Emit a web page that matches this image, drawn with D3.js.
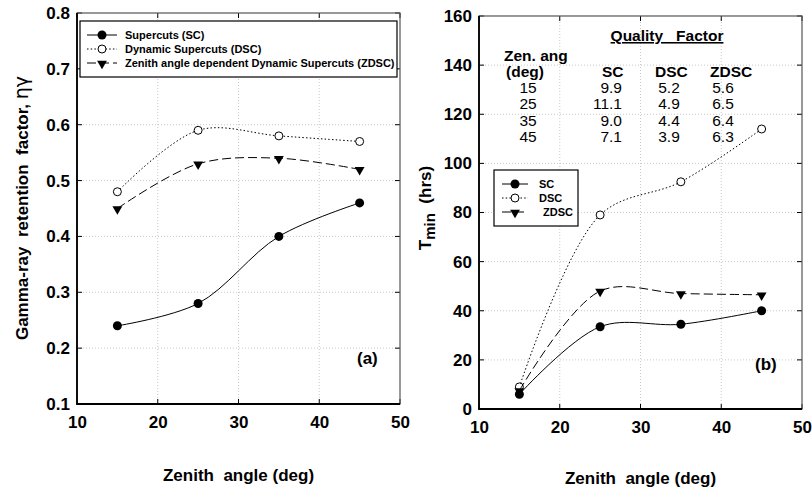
<!DOCTYPE html>
<html>
<head>
<meta charset="utf-8">
<script src="https://cdn.jsdelivr.net/npm/d3@7/dist/d3.min.js"></script>
<style>
body { margin: 0; background: #fff; }
svg { display: block; font-family: "Liberation Sans", Arial, sans-serif; }
</style>
</head>
<body>
<script>
var zenith = [15, 25, 35, 45];

// panel (a): gamma-ray retention factor
var retSC = [0.24, 0.28, 0.40, 0.46];
var retDSC = [0.48, 0.59, 0.58, 0.57];
var retZDSC = [0.45, 0.53, 0.54, 0.52];

// panel (b): T_min (hrs)
var tSC = [6, 33.5, 34.5, 40];
var tDSC = [9, 79, 92.5, 114];
var tZDSC = [7.5, 48, 47, 46.5];

var xTicks = [10, 20, 30, 40, 50];
var retTicks = [0.1, 0.2, 0.3, 0.4, 0.5, 0.6, 0.7, 0.8];
var tTicks = [0, 20, 40, 60, 80, 100, 120, 140, 160];

var qfHead = ["SC", "DSC", "ZDSC"];
var qfZen = ["15", "25", "35", "45"];
var qfSC = ["9.9", "11.1", "9.0", "7.1"];
var qfDSC = ["5.2", "4.9", "4.4", "3.9"];
var qfZDSC = ["5.6", "6.5", "6.4", "6.3"];

var W = 812, H = 493;
var svg = d3.select("body").append("svg").attr("width", W).attr("height", H);

var styles = {
    SC: {dash: null, marker: "dot"},
    DSC: {dash: "1.5,2.2", marker: "open"},
    ZDSC: {dash: "9,4", marker: "tri"}
};

function marker(g, type, x, y) {
    if (type == "dot") {
        g.append("circle").attr("cx", x).attr("cy", y).attr("r", 4.5).attr("fill", "#000");
    } else if (type == "open") {
        g.append("circle").attr("cx", x).attr("cy", y).attr("r", 4).attr("fill", "#fff")
            .attr("stroke", "#000").attr("stroke-width", 1);
    } else {
        g.append("path").attr("d", d3.symbol().type(d3.symbolTriangle).size(42)())
            .attr("transform", "translate(" + x + "," + (y + 0.5) + ") rotate(180)")
            .attr("fill", "#000");
    }
}

function panel(o) {
    var x = d3.scaleLinear().domain([10, 50]).range([o.x0, o.x1]);
    var y = d3.scaleLinear().domain(o.ydom).range([o.y1, o.y0]);
    var g = svg.append("g");

    // grid
    g.selectAll(".gx").data(xTicks.slice(1, -1)).enter().append("line")
        .attr("x1", d => x(d)).attr("x2", d => x(d)).attr("y1", o.y0).attr("y2", o.y1)
        .attr("stroke", "#bbb").attr("stroke-width", 0.8).attr("stroke-dasharray", "1,2");
    g.selectAll(".gy").data(o.yticks.slice(1, -1)).enter().append("line")
        .attr("y1", d => y(d)).attr("y2", d => y(d)).attr("x1", o.x0).attr("x2", o.x1)
        .attr("stroke", "#bbb").attr("stroke-width", 0.8).attr("stroke-dasharray", "1,2");

    // axes
    var ax = g.append("g").attr("transform", "translate(0," + o.y1 + ")")
        .call(d3.axisBottom(x).tickValues(xTicks).tickSize(0).tickPadding(12).tickFormat(d3.format("d")));
    var ay = g.append("g").attr("transform", "translate(" + o.x0 + ",0)")
        .call(d3.axisLeft(y).tickValues(o.yticks).tickSize(0).tickPadding(7).tickFormat(o.fmt));
    [ax, ay].forEach(a => {
        a.select(".domain").remove();
        a.selectAll("text").attr("font-size", 17).attr("font-weight", "bold")
            .attr("fill", "#000").attr("font-family", "Liberation Sans, Arial, sans-serif");
    });

    // inner ticks on all sides
    xTicks.forEach(t => {
        g.append("line").attr("x1", x(t)).attr("x2", x(t)).attr("y1", o.y1).attr("y2", o.y1 - 5).attr("stroke", "#000");
        g.append("line").attr("x1", x(t)).attr("x2", x(t)).attr("y1", o.y0).attr("y2", o.y0 + 5).attr("stroke", "#000");
    });
    o.yticks.forEach(t => {
        g.append("line").attr("y1", y(t)).attr("y2", y(t)).attr("x1", o.x0).attr("x2", o.x0 + 5).attr("stroke", "#000");
        g.append("line").attr("y1", y(t)).attr("y2", y(t)).attr("x1", o.x1).attr("x2", o.x1 - 5).attr("stroke", "#000");
    });

    // frame
    g.append("rect").attr("x", o.x0).attr("y", o.y0).attr("width", o.x1 - o.x0).attr("height", o.y1 - o.y0)
        .attr("fill", "none").attr("stroke", "#555").attr("stroke-width", 1.2);
    g.append("path").attr("d", "M" + o.x0 + "," + o.y0 + "V" + o.y1 + "H" + o.x1)
        .attr("fill", "none").attr("stroke", "#000").attr("stroke-width", 1.8);

    // series
    var line = d3.line().x((d, i) => x(zenith[i])).y(d => y(d)).curve(d3.curveCatmullRom.alpha(0.5));
    o.series.forEach(s => {
        var st = styles[s.key];
        g.append("path").datum(s.values).attr("d", line).attr("fill", "none")
            .attr("stroke", "#000").attr("stroke-width", 1)
            .attr("stroke-dasharray", st.dash);
        s.values.forEach((v, i) => marker(g, st.marker, x(zenith[i]), y(v)));
    });

    // legend
    var L = o.legend;
    g.append("rect").attr("x", L.x).attr("y", L.y).attr("width", L.w).attr("height", L.h)
        .attr("fill", "#fff").attr("stroke", "#000").attr("stroke-width", 1.2);
    o.series.forEach((s, i) => {
        var st = styles[s.key];
        var yy = L.y + 14 + i * 14;
        g.append("line").attr("x1", L.lx).attr("x2", L.lx + L.lw).attr("y1", yy).attr("y2", yy)
            .attr("stroke", "#000").attr("stroke-width", 1).attr("stroke-dasharray", st.dash);
        marker(g, st.marker, L.lx + L.lw / 2, yy);
        g.append("text").attr("x", L.tx + (s.dx || 0)).attr("y", yy + 4).text(s.label)
            .attr("font-size", 11).attr("font-weight", "bold");
    });

    // panel tag
    g.append("text").attr("x", o.tag[0]).attr("y", o.tag[1]).text(o.tagText)
        .attr("font-size", 17).attr("font-weight", "bold");

    // x label
    g.append("text").attr("x", (o.x0 + o.x1) / 2).attr("y", o.xlabY).attr("text-anchor", "middle")
        .text("Zenith  angle (deg)").attr("font-size", 17).attr("font-weight", "bold")
        .attr("xml:space", "preserve").style("white-space", "pre");
    return {x: x, y: y, g: g};
}

panel({
    x0: 77, x1: 400, y0: 13, y1: 404, ydom: [0.1, 0.8], yticks: retTicks, fmt: d3.format(".1f"),
    series: [
        {key: "SC", values: retSC, label: "Supercuts  (SC)"},
        {key: "DSC", values: retDSC, label: "Dynamic Supercuts  (DSC)"},
        {key: "ZDSC", values: retZDSC, label: "Zenith angle dependent Dynamic Supercuts  (ZDSC)"}
    ],
    legend: {x: 80, y: 21, w: 317, h: 56, lx: 87, lw: 30, tx: 125},
    tag: [357, 364], tagText: "(a)", xlabY: 481
});

panel({
    x0: 479, x1: 802, y0: 16, y1: 409, ydom: [0, 160], yticks: tTicks, fmt: d3.format("d"),
    series: [
        {key: "SC", values: tSC, label: "SC"},
        {key: "DSC", values: tDSC, label: "DSC"},
        {key: "ZDSC", values: tZDSC, label: "ZDSC", dx: 4}
    ],
    legend: {x: 494, y: 170, w: 84, h: 56, lx: 502, lw: 26, tx: 539},
    tag: [755, 370], tagText: "(b)", xlabY: 484
});

// y labels
svg.append("text").attr("transform", "translate(28,208) rotate(-90)").attr("text-anchor", "middle")
    .attr("font-size", 17).attr("font-weight", "bold").style("white-space", "pre")
    .text("Gamma-ray  retention  factor, ")
    .append("tspan").attr("font-family", "DejaVu Sans").attr("font-weight", "normal").attr("font-size", 19).text("ηγ");

var tl = svg.append("text").attr("transform", "translate(431,208) rotate(-90)").attr("text-anchor", "middle")
    .attr("font-size", 17).attr("font-weight", "bold").style("white-space", "pre");
tl.append("tspan").text("T");
tl.append("tspan").attr("font-size", 15).attr("dy", 4).text("min");
tl.append("tspan").attr("dy", -4).text("  (hrs)");

// quality factor table
var tbl = svg.append("g").attr("font-size", 15.5).attr("fill", "#000");
tbl.append("text").attr("x", 667).attr("y", 41).attr("text-anchor", "middle").attr("font-weight", "bold")
    .style("white-space", "pre").attr("text-decoration", "underline").text("Quality   Factor");
tbl.append("text").attr("x", 504).attr("y", 61).attr("font-weight", "bold").text("Zen. ang");
tbl.append("text").attr("x", 506).attr("y", 77).attr("font-weight", "bold").text("(deg)");
var headX = [602, 655, 710];
qfHead.forEach((h, i) => tbl.append("text").attr("x", headX[i]).attr("y", 77).attr("font-weight", "bold").text(h));
var colX = [528, 622, 669, 723];
var anchors = ["middle", "end", "middle", "middle"];
[qfZen, qfSC, qfDSC, qfZDSC].forEach((col, c) => {
    col.forEach((v, r) => tbl.append("text").attr("x", colX[c]).attr("y", 93 + r * 16.3)
        .attr("text-anchor", anchors[c]).text(v));
});
</script>
</body>
</html>
